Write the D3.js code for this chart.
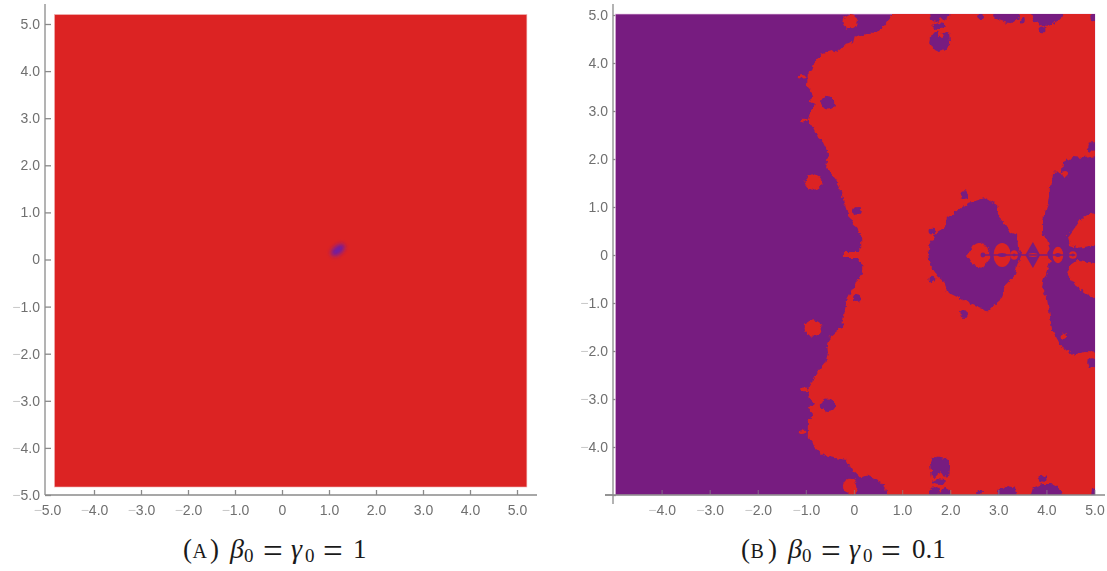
<!DOCTYPE html>
<html>
<head>
<meta charset="utf-8">
<script src="https://cdn.jsdelivr.net/npm/d3@7"></script>
<style>
  html, body { margin: 0; padding: 0; background: #fff; }
  svg { display: block; }
</style>
</head>
<body>
<div id="chart"></div>
<script>
// tick values, both panels use the same ones
const leftTicks = [-5, -4, -3, -2, -1, 0, 1, 2, 3, 4, 5];
const rightXTicks = [-4, -3, -2, -1, 0, 1, 2, 3, 4, 5];
const rightYTicks = [-5, -4, -3, -2, -1, 0, 1, 2, 3, 4, 5];

const RED = '#dc2323';
const PURPLE = '#771c80';

// panel A: region extent and the one small purple spot
const panelAExtent = [[-4.84, 5.2], [5.21, -4.83]];
const panelASpot = [1.19, 0.2];

const panelBExtent = [[-4.96, 5.02], [5.01, -5]];

// main red area, left boundary from top to bottom then round the right side
// (points on the frame go a bit past it, the group is clipped to the frame)
const mainRed = [
  [0.85,5.2],[0.75,4.94],[0.64,4.79],[0.48,4.63],[0.33,4.63],[0.19,4.56],[0.02,4.58],[-0.02,4.42],
  [-0.19,4.38],[-0.35,4.23],[-0.46,4.27],[-0.67,4.21],[-0.81,4.02],[-0.87,3.85],[-0.96,3.79],[-0.98,3.5],
  [-0.89,3.4],[-0.85,3.29],[-0.94,3.21],[-0.81,3.15],[-0.91,2.98],[-0.96,2.81],[-0.85,2.65],[-0.75,2.46],
  [-0.67,2.4],[-0.6,2.25],[-0.54,2.13],[-0.58,1.81],[-0.5,1.73],[-0.37,1.56],[-0.29,1.42],[-0.25,1.23],
  [-0.19,1.04],[-0.12,0.83],[-0.04,0.69],[0.08,0.52],[0.17,0.35],[0.17,0.15],[0.08,0.06],[-0.23,0.06],
  [-0.23,-0.06],[0.08,-0.06],[0.17,-0.19],[0.17,-0.38],[0.06,-0.58],[-0.04,-0.73],[-0.15,-0.94],[-0.19,-1.15],
  [-0.25,-1.5],[-0.37,-1.6],[-0.5,-1.71],[-0.56,-1.88],[-0.54,-2.04],[-0.6,-2.25],[-0.77,-2.46],[-0.87,-2.65],
  [-0.96,-2.81],[-0.91,-3.02],[-0.81,-3.1],[-0.94,-3.21],[-0.85,-3.31],[-0.96,-3.48],[-0.96,-3.79],[-0.87,-3.9],
  [-0.81,-4.02],[-0.64,-4.17],[-0.4,-4.23],[-0.15,-4.27],[-0.04,-4.48],[0.12,-4.63],[0.29,-4.6],[0.54,-4.73],
  [0.64,-4.85],[0.75,-5.2],[5.2,-5.2],[5.2,5.2]
];

const centerBlob = [
  [1.54,0],[1.58,0.25],[1.73,0.48],[1.89,0.58],[1.93,0.77],[2.16,0.94],[2.37,1.08],[2.72,1.19],[2.97,1.04],
  [3.04,0.73],[3.14,0.63],[3.24,0.48],[3.39,0.42],[3.41,0.15],[3.49,0],[3.41,-0.15],[3.35,-0.42],[3.14,-0.63],
  [3.08,-0.9],[2.77,-1.17],[2.47,-1.04],[2.16,-0.88],[1.93,-0.77],[1.89,-0.56],[1.73,-0.42],[1.58,-0.21]
];
const rightBlob = [
  [5.2,2.08],[4.76,2.02],[4.55,2.04],[4.35,1.94],[4.32,1.73],[4.12,1.71],[4.07,1.35],[4.03,1.08],[3.93,0.73],
  [3.93,0.46],[4.01,0.31],[4.07,0.15],[4.03,0],[4.07,-0.15],[4.01,-0.35],[3.93,-0.56],[3.91,-0.69],[4.01,-0.9],
  [4.07,-1.25],[4.12,-1.56],[4.32,-1.92],[4.55,-2.08],[4.8,-2.02],[5.2,-2.04]
];
const topBlob = [
  [1.62,4.63],[1.75,4.65],[1.79,4.56],[1.85,4.65],[1.98,4.6],[2,4.4],[1.91,4.27],[1.75,4.23],[1.66,4.27],[1.58,4.42]
];
const bottomBlob = [
  [1.58,-4.35],[1.62,-4.23],[1.75,-4.2],[1.91,-4.23],[2,-4.38],[1.98,-4.6],[1.87,-4.62],[1.79,-4.52],[1.72,-4.62],[1.62,-4.62]
];
const topLobeA = [[1.54,5.2],[1.58,4.9],[1.73,4.85],[1.79,4.96],[1.87,4.88],[2,4.98],[2.02,5.2]];
const topLobeB = [[2.83,5.2],[2.93,4.92],[3.14,4.85],[3.28,4.83],[3.41,4.92],[3.49,5.2]];
const topLobeC = [[3.62,5.2],[3.72,4.92],[3.87,4.79],[4.03,4.77],[4.2,4.88],[4.3,4.94],[4.43,5.2]];
const topCorner = [[4.86,5.2],[4.93,4.9],[5.2,4.85],[5.2,5.2]];
const bottomLobeA = [[1.54,-5.2],[1.6,-4.85],[1.73,-4.83],[1.79,-4.94],[1.87,-4.83],[2,-4.9],[2.02,-5.2]];
const bottomLobeB = [[2.89,-5.2],[2.99,-4.88],[3.18,-4.81],[3.35,-4.85],[3.41,-5.2]];
const bottomLobeC = [[3.62,-5.2],[3.72,-4.85],[3.91,-4.77],[4.12,-4.77],[4.32,-4.9],[4.43,-5.2]];
const bottomCorner = [[4.91,-5.2],[4.95,-4.85],[5.2,-4.83],[5.2,-5.2]];
const purpleShapes = [centerBlob, rightBlob, topBlob, bottomBlob, topLobeA, topLobeB, topLobeC,
  topCorner, bottomLobeA, bottomLobeB, bottomLobeC, bottomCorner];

const wedgeUp = [[4.45,0.38],[4.76,0.79],[4.91,0.88],[5.2,0.73],[5.2,0.23],[4.66,0.15],[4.49,0.21]];
const wedgeDown = [[4.49,-0.21],[4.66,-0.1],[5.2,-0.21],[5.2,-0.83],[4.95,-0.88],[4.8,-0.79],[4.6,-0.63],[4.43,-0.38]];
const innerRed = [[2.35,0],[2.47,0.21],[2.68,0.27],[2.81,0.1],[2.81,-0.1],[2.68,-0.27],[2.47,-0.21]];
const redShapes = [wedgeUp, wedgeDown, innerRed];

// small spots as [x, y, rx, ry]
const redSpots = [
  [-0.85,1.52,0.18,0.16],[-0.85,-1.52,0.18,0.16],[-1.08,3.71,0.07,0.04],[-1.08,-3.69,0.07,0.04],
  [-0.08,4.86,0.16,0.14],[-0.08,-4.83,0.15,0.17],[-1.04,2.81,0.08,0.03],[-1.04,-2.81,0.08,0.03],
  [4.39,1.69,0.06,0.06],[4.37,-1.69,0.06,0.06],[1.79,4.58,0.05,0.04],[1.79,-4.58,0.05,0.04],
  [-0.91,3.19,0.05,0.03],[-0.91,-3.17,0.05,0.03]
];
const purpleSpots = [
  [2.29,1.25,0.08,0.08],[2.29,-1.23,0.08,0.08],[0.06,0.92,0.08,0.08],[0.06,-0.9,0.08,0.08],[1.62,0.5,0.07,0.07],
  [1.62,-0.5,0.07,0.07],[4.95,2.25,0.1,0.1],[4.95,-2.25,0.1,0.1],[-0.54,3.17,0.15,0.14],[-0.54,-3.13,0.15,0.14],
  [3.91,4.69,0.07,0.07],[3.91,-4.67,0.07,0.07],[3.51,4.88,0.04,0.07],[2.62,4.96,0.06,0.05],[2.62,-4.94,0.06,0.05],
  [1.77,4.77,0.14,0.06],[1.77,-4.73,0.14,0.06]
];

// the bead chain along y = 0 stays sharp, drawn over the rough shapes
const diamond = [[3.56,0],[3.72,0.27],[3.87,0],[3.72,-0.27]];
const beadRedSpots = [
  [3.08,0,0.18,0.25],[3.33,0,0.08,0.1],[4.24,0,0.11,0.17],[4.55,0,0.08,0.08],[3.95,0,0.05,0.07],[3.72,0,0.1,0.04]
];
const beadPurpleSpots = [
  [2.68,0,0.05,0.05],[3.08,0,0.09,0.04],[3.33,0,0.03,0.03],[4.24,0,0.06,0.04],[4.55,0,0.03,0.03]
];
const axisChain = [[2.68,0],[4.6,0]];
const tongue = [[4.5,0],[4.68,0.1],[5.2,0.2],[5.2,-0.2],[4.68,-0.1]];

// caption pieces: [text, offset from caption start, kind]
const captionA = [['(',0,'t'],['A',9.5,'s'],[')',27,'t'],['\u03b2',47,'i'],['0',61,'b'],['=',80,'e'],['\u03b3',108,'i'],['0',122,'b'],['=',140,'e'],['1',170,'t']];
const captionB = [['(',0,'t'],['B',9.5,'s'],[')',27,'t'],['\u03b2',47,'i'],['0',61,'b'],['=',80,'e'],['\u03b3',108,'i'],['0',122,'b'],['=',140,'e'],['0.1',171,'t']];

const svg = d3.select('#chart').append('svg')
  .attr('width', 1107)
  .attr('height', 571);

const defs = svg.append('defs');
defs.append('filter').attr('id', 'soft')
  .append('feGaussianBlur').attr('stdDeviation', 0.45);
defs.append('filter').attr('id', 'spot').attr('x', '-100%').attr('y', '-100%').attr('width', '300%').attr('height', '300%')
  .append('feGaussianBlur').attr('stdDeviation', 2);

// roughens the region edges so they look like the blocky contour plot
const rough = defs.append('filter').attr('id', 'rough')
  .attr('filterUnits', 'userSpaceOnUse')
  .attr('x', 590).attr('y', 0).attr('width', 517).attr('height', 520)
  .attr('color-interpolation-filters', 'sRGB');
rough.append('feTurbulence')
  .attr('type', 'fractalNoise').attr('baseFrequency', 0.22).attr('numOctaves', 2).attr('seed', 4).attr('result', 'n');
rough.append('feDisplacementMap')
  .attr('in', 'SourceGraphic').attr('in2', 'n').attr('scale', 5.5)
  .attr('xChannelSelector', 'R').attr('yChannelSelector', 'G');
rough.append('feGaussianBlur').attr('stdDeviation', 0.35);

// scales
const ax = d3.scaleLinear().domain([-5, 5]).range([47, 517]);
const ay = d3.scaleLinear().domain([-5, 5]).range([495, 24]);
const bx = d3.scaleLinear().domain([-5, 5]).range([613.5, 1094.5]);
const by = d3.scaleLinear().domain([-5, 5]).range([495, 15]);

function styleAxis(g) {
  g.selectAll('path, line').attr('stroke', '#8a8a8a').attr('stroke-width', 1.3);
  g.selectAll('text')
    .attr('fill', '#6f6f6f')
    .attr('font-family', '"Liberation Sans", Arial, sans-serif')
    .attr('font-size', 14)
    .attr('filter', 'url(#soft)')
    .each(function(d) {
      // the minus sign is much paler than the digits in the original
      const t = d3.select(this);
      const txt = d === 0 ? '0' : Math.abs(d).toFixed(1);
      t.text(null);
      if (d < 0) t.append('tspan').attr('fill', '#c8c8c8').text('\u2212');
      t.append('tspan').text(txt);
    });
}

// panel A
const panelA = svg.append('g');
const axisAx = panelA.append('g')
  .attr('transform', 'translate(0,495)')
  .call(d3.axisBottom(ax).tickValues(leftTicks).tickSize(-5).tickPadding(8).tickSizeOuter(0));
axisAx.select('.domain').attr('d', 'M45,0H537');
styleAxis(axisAx);
axisAx.selectAll('text').attr('y', 10).attr('dy', '0.71em');
axisAx.selectAll('.tick line').filter(d => d === -5).remove();

const axisAy = panelA.append('g')
  .attr('transform', 'translate(45,0)')
  .call(d3.axisLeft(ay).tickValues(leftTicks).tickSize(-6).tickPadding(5).tickSizeOuter(0));
axisAy.select('.domain').attr('d', 'M0,4V495');
styleAxis(axisAy);
axisAy.selectAll('text').attr('x', -5);

panelA.append('rect')
  .attr('x', ax(panelAExtent[0][0]))
  .attr('y', ay(panelAExtent[0][1]))
  .attr('width', ax(panelAExtent[1][0]) - ax(panelAExtent[0][0]))
  .attr('height', ay(panelAExtent[1][1]) - ay(panelAExtent[0][1]))
  .attr('fill', RED)
  .attr('stroke', '#f0b0b0')
  .attr('stroke-width', 0.6);

panelA.append('ellipse')
  .attr('cx', ax(panelASpot[0]))
  .attr('cy', ay(panelASpot[1]))
  .attr('rx', ax(0.17) - ax(0))
  .attr('ry', ay(0) - ay(0.09))
  .attr('transform', `rotate(-38 ${ax(panelASpot[0])} ${ay(panelASpot[1])})`)
  .attr('fill', '#6a1fa8')
  .attr('filter', 'url(#spot)');

// panel B
const panelB = svg.append('g');
const axisBy = panelB.append('g')
  .attr('transform', 'translate(613,0)')
  .call(d3.axisLeft(by).tickValues(rightYTicks).tickSize(-3).tickPadding(5).tickSizeOuter(0));
axisBy.select('.domain').attr('d', 'M0,4V504');
styleAxis(axisBy);
axisBy.selectAll('text').attr('x', -5);
axisBy.selectAll('.tick').filter(d => d === -5).select('text').remove();

panelB.append('line')
  .attr('x1', 605).attr('x2', 613).attr('y1', by(-5)).attr('y2', by(-5))
  .attr('stroke', '#8a8a8a').attr('stroke-width', 1.3);

const bLeft = bx(panelBExtent[0][0]);
const bTop = by(panelBExtent[0][1]);
const bWidth = bx(panelBExtent[1][0]) - bLeft;
const bHeight = by(panelBExtent[1][1]) - bTop;

panelB.append('rect')
  .attr('x', bLeft).attr('y', bTop).attr('width', bWidth).attr('height', bHeight)
  .attr('fill', PURPLE)
  .attr('stroke', '#e3b8e0')
  .attr('stroke-width', 0.6);

defs.append('clipPath').attr('id', 'frameB').append('rect')
  .attr('x', bLeft).attr('y', bTop).attr('width', bWidth).attr('height', bHeight);

const clipped = panelB.append('g').attr('clip-path', 'url(#frameB)');
const region = clipped.append('g').attr('filter', 'url(#rough)');
const area = d3.line().x(d => bx(d[0])).y(d => by(d[1])).curve(d3.curveLinearClosed);

function drawSpots(g, spots, fill) {
  g.append('g').selectAll('ellipse').data(spots).join('ellipse')
    .attr('cx', d => bx(d[0])).attr('cy', d => by(d[1]))
    .attr('rx', d => bx(d[2]) - bx(0)).attr('ry', d => by(0) - by(d[3]))
    .attr('fill', fill);
}

region.append('path').attr('d', area(mainRed)).attr('fill', RED);
region.append('g').selectAll('path').data(purpleShapes).join('path')
  .attr('d', d => area(d))
  .attr('fill', PURPLE);
region.append('g').selectAll('path').data(redShapes).join('path')
  .attr('d', d => area(d))
  .attr('fill', RED);
drawSpots(region, redSpots, RED);
drawSpots(region, purpleSpots, PURPLE);

const beads = clipped.append('g');
beads.append('path').attr('d', area(diamond)).attr('fill', PURPLE);
beads.append('path').attr('d', area(tongue)).attr('fill', PURPLE);
drawSpots(beads, beadRedSpots, RED);
beads.append('path')
  .attr('d', d3.line().x(d => bx(d[0])).y(d => by(d[1]))(axisChain))
  .attr('stroke', PURPLE).attr('stroke-width', 1.5).attr('fill', 'none');
drawSpots(beads, beadPurpleSpots, PURPLE);

const axisBx = panelB.append('g')
  .attr('transform', 'translate(0,495)')
  .call(d3.axisBottom(bx).tickValues(rightXTicks).tickSize(-5).tickPadding(8).tickSizeOuter(0));
axisBx.select('.domain').attr('d', 'M605,0H1105');
styleAxis(axisBx);
axisBx.selectAll('text').attr('y', 10).attr('dy', '0.71em');
axisBx.selectAll('.tick line').attr('stroke-opacity', 0.55);

// captions, set piece by piece because there is no math typesetting here
const pieceSize = { t: 27, s: 20, i: 28, b: 19, e: 35 };
function caption(startX, pieces) {
  svg.append('g').selectAll('text').data(pieces).join('text')
    .attr('x', d => startX + d[1])
    .attr('y', d => d[2] === 'b' ? 562 : d[2] === 'e' ? 563 : 558)
    .attr('font-family', '"Liberation Serif", "DejaVu Serif", serif')
    .attr('font-size', d => pieceSize[d[2]])
    .attr('font-style', d => d[2] === 'i' ? 'italic' : 'normal')
    .attr('fill', '#1a1a1a')
    .text(d => d[0]);
}
caption(183, captionA);
caption(741, captionB);
</script>
</body>
</html>
